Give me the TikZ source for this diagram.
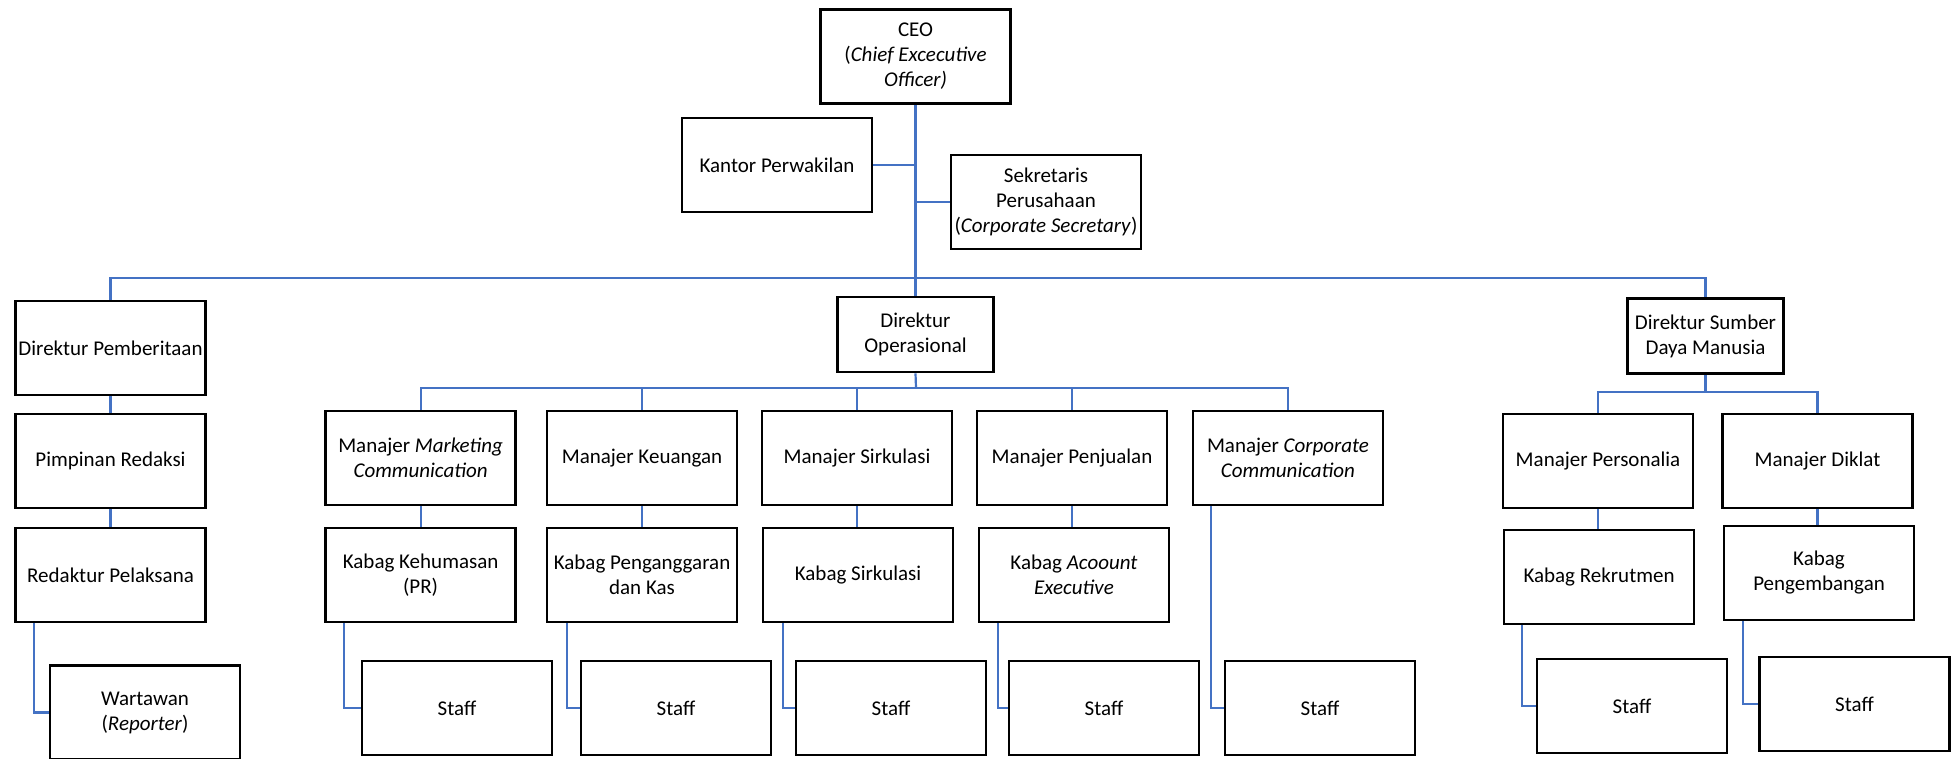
\documentclass[tikz,border=0pt]{standalone}
\usepackage{fontspec}
\setmainfont{Carlito}
\definecolor{garisbiru}{HTML}{4472C4}

\begin{document}
\begin{tikzpicture}[x=0.5pt,y=-0.5pt,
  kotak/.style={draw,line width=1.4pt,minimum width=95pt,minimum height=47pt,align=center,inner sep=1pt,font=\fontsize{10.5}{12.5}\selectfont},
  kotakkecil/.style={kotak,minimum width=78pt,minimum height=37.5pt},
  garis/.style={draw=garisbiru,line width=1.1pt}]
\useasboundingbox(0,0) rectangle (1957,759);
%
\node[kotak](ceo) at (915.5,56.5){CEO\\(\textit{Chief Excecutive}\\\textit{Officer)}};
\node[kotak](kantor) at (777,165){Kantor Perwakilan};
\node[kotak](sekretaris) at (1046,202){Sekretaris\\Perusahaan\\(\textit{Corporate Secretary})};
%
\node[kotak](dirberita) at (110.5,348){Direktur Pemberitaan};
\node[kotakkecil](dirops) at (915.5,334.5){Direktur\\Operasional};
\node[kotakkecil](dirsdm) at (1705.5,336){Direktur Sumber\\Daya Manusia};
%
\node[kotak](pimpinan) at (110.5,461){Pimpinan Redaksi};
\node[kotak](redaktur) at (110.5,575){Redaktur Pelaksana};
\node[kotak](wartawan) at (145,712.5){Wartawan\\(\textit{Reporter})};
%
\node[kotak](mmarketing) at (420.6,458){Manajer \textit{Marketing}\\\textit{Communication}};
\node[kotak](mkeuangan) at (642,458){Manajer Keuangan};
\node[kotak](msirkulasi) at (857,458){Manajer Sirkulasi};
\node[kotak](mpenjualan) at (1072,458){Manajer Penjualan};
\node[kotak](mcorporate) at (1288,458){Manajer \textit{Corporate}\\\textit{Communication}};
%
\node[kotak](kehumasan) at (420.6,575){Kabag Kehumasan\\(PR)};
\node[kotak](penganggaran) at (642,575){Kabag Penganggaran\\dan Kas};
\node[kotak](ksirkulasi) at (858,575){Kabag Sirkulasi};
\node[kotak](account) at (1074,575){Kabag \textit{Acoount}\\\textit{Executive}};
%
\node[kotak](staff1) at (457,708){Staff};
\node[kotak](staff2) at (676,708){Staff};
\node[kotak](staff3) at (891,708){Staff};
\node[kotak](staff4) at (1104,708){Staff};
\node[kotak](staff5) at (1320,708){Staff};
%
\node[kotak](personalia) at (1598,461){Manajer Personalia};
\node[kotak](diklat) at (1817.5,461){Manajer Diklat};
\node[kotak](rekrutmen) at (1599,577){Kabag Rekrutmen};
\node[kotak](pengembangan) at (1819,573){Kabag\\Pengembangan};
\node[kotak](staff6) at (1632,706){Staff};
\node[kotak](staff7) at (1854.5,704){Staff};
%
\coordinate(bus) at (916,278);
\coordinate(busops) at (916,388);
\coordinate(bussdm) at (1705.5,392);
%
\draw[garis](ceo.south)--(dirops.north);
\draw[garis](kantor.east)--(kantor.east -| ceo.south);
\draw[garis](sekretaris.west)--(sekretaris.west -| ceo.south);
\draw[garis](dirberita.north)|-(bus)-|(dirsdm.north);
%
\draw[garis](dirberita.south)--(pimpinan.north);
\draw[garis](pimpinan.south)--(redaktur.north);
\draw[garis]([xshift=10pt]redaktur.south west)|-(wartawan.west);
%
\draw[garis](dirops.south)--(busops);
\draw[garis](mmarketing.north)|-(busops)-|(mcorporate.north);
\draw[garis](mkeuangan.north)--(mkeuangan.north |- busops);
\draw[garis](msirkulasi.north)--(msirkulasi.north |- busops);
\draw[garis](mpenjualan.north)--(mpenjualan.north |- busops);
%
\draw[garis](mmarketing.south)--(mmarketing.south |- kehumasan.north);
\draw[garis](mkeuangan.south)--(mkeuangan.south |- penganggaran.north);
\draw[garis](msirkulasi.south)--(msirkulasi.south |- ksirkulasi.north);
\draw[garis](mpenjualan.south)--(mpenjualan.south |- account.north);
%
\draw[garis]([xshift=10pt]kehumasan.south west)|-(staff1.west);
\draw[garis]([xshift=10.5pt]penganggaran.south west)|-(staff2.west);
\draw[garis]([xshift=10.5pt]ksirkulasi.south west)|-(staff3.west);
\draw[garis]([xshift=10pt]account.south west)|-(staff4.west);
\draw[garis]([xshift=9.5pt]mcorporate.south west)|-(staff5.west);
%
\draw[garis](dirsdm.south)--(bussdm);
\draw[garis](personalia.north)|-(bussdm)-|(diklat.north);
\draw[garis](personalia.south)--(personalia.south |- rekrutmen.north);
\draw[garis](diklat.south)--(diklat.south |- pengembangan.north);
\draw[garis]([xshift=9.5pt]rekrutmen.south west)|-(staff6.west);
\draw[garis]([xshift=10pt]pengembangan.south west)|-(staff7.west);
\end{tikzpicture}
\end{document}
